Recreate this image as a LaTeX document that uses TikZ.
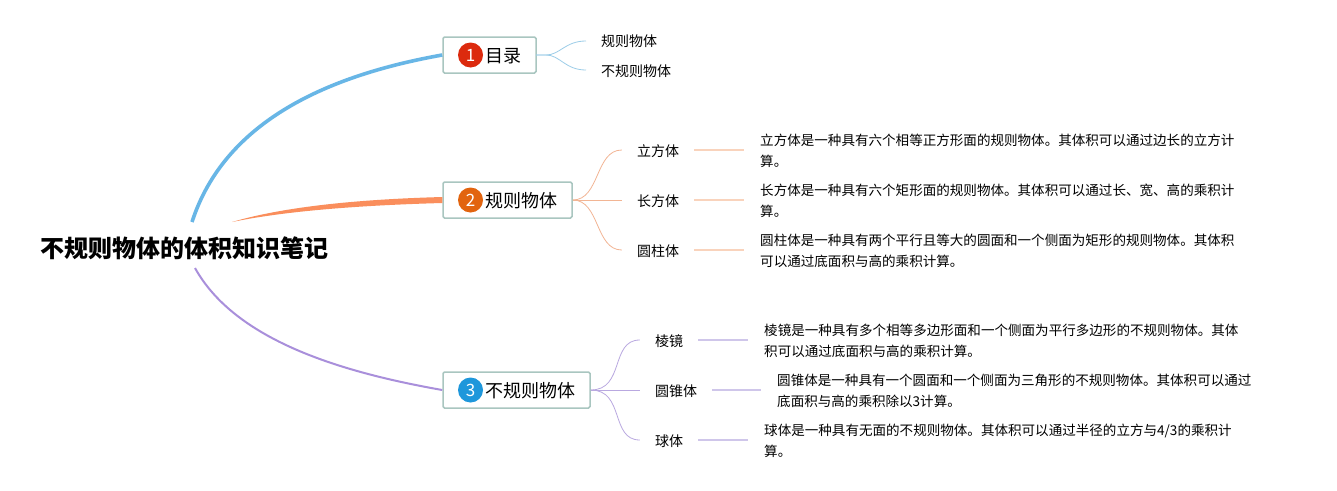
\documentclass[tikz,border=0pt]{standalone}
\usepackage{fontspec}
\setmainfont{Noto Sans CJK SC}
\newfontfamily\lightcjk{Noto Sans CJK SC Light}
\usetikzlibrary{calc}
\definecolor{cblue}{HTML}{68B6E6}
\definecolor{corange}{HTML}{FA8E5C}
\definecolor{cpurple}{HTML}{A98FDB}
\definecolor{lblue}{HTML}{9CCDE8}
\definecolor{lorange}{HTML}{F2B594}
\definecolor{lorangeb}{HTML}{F9D3BC}
\definecolor{lpurple}{HTML}{B9A8E0}
\definecolor{lpurpleb}{HTML}{CFC6EA}
\definecolor{boxline}{HTML}{A9C6C0}
\definecolor{badgered}{HTML}{DC2A0E}
\definecolor{badgeorange}{HTML}{E2640F}
\definecolor{badgeblue}{HTML}{1E97DB}
\tikzset{
  x=1pt,y=-1pt,
  rootnode/.style={inner sep=0pt,font=\fontsize{24}{28}\selectfont\bfseries},
  topicbox/.style={draw=boxline,line width=1.5pt,rounded corners=1.5pt,fill=white,inner sep=0pt,minimum height=36pt},
  badge/.style={circle,inner sep=0pt,minimum size=25pt,text=white,font=\fontsize{17}{20}\selectfont},
  topictext/.style={inner sep=0pt,font=\fontsize{18}{22}\selectfont,anchor=west},
  leaf/.style={inner sep=0pt,font=\fontsize{14}{18}\selectfont},
  desc/.style={inner sep=0pt,anchor=west,align=left,font=\fontsize{13.55}{21}\selectfont},
  thin link/.style={line width=0.8pt},
  bar link/.style={line width=1.4pt},
}
\begin{document}
\begin{tikzpicture}
\useasboundingbox (0,0) rectangle (1337,490);
\fill[white] (0,0) rectangle (1337,490);

\node[rootnode] (root) at (184.5,248) {不规则物体的体积知识笔记};
\coordinate (r1) at (192,222);
\coordinate (r2) at (232,222);
\coordinate (r3) at (195,268);

% topic boxes
\node[topicbox,minimum width=93pt] (t1) at (489.5,55) {};
\node[topicbox,minimum width=129pt] (t2) at (507.5,200) {};
\node[topicbox,minimum width=147pt] (t3) at (516.5,390) {};

\node[badge,fill=badgered] (b1) at (470.5,55) {1};
\node[badge,fill=badgeorange] (b2) at (470.5,200) {2};
\node[badge,fill=badgeblue] (b3) at (470.5,390) {3};
\node[topictext] (tt1) at (485,56) {目录};
\node[topictext] (tt2) at (485,200.5) {规则物体};
\node[topictext] (tt3) at (485,391) {不规则物体};

% main branches
\draw[cblue,line width=3.6pt] (r1) .. controls (225,120) and (330,75) .. (t1.west);
\fill[corange] (r2) .. controls (290,205) and (370,199) .. ($(t2.west)+(0,-3)$) -- ($(t2.west)+(0,3)$) .. controls (370,205) and (290,210) .. (r2) -- cycle;
\draw[cpurple,line width=2pt] (r3) .. controls (235,340) and (340,372) .. (t3.west);

% level 2 topic 1
\node[leaf,anchor=west] (a1) at (601,41) {规则物体};
\node[leaf,anchor=west] (a2) at (601,71) {不规则物体};
\coordinate (o1) at (536,55);
\draw[lblue,thin link] (t1.east) -- (o1) -- ++(10,0) .. controls (560,55) and (565,41) .. ($(a1.west)+(-15,0)$);
\draw[lblue,thin link] (o1) -- ++(10,0) .. controls (560,55) and (565,70) .. ($(a2.west)+(-15,-1)$);

% level 2 topic 2
\node[leaf] (c1) at (658,151) {立方体};
\node[leaf] (c2) at (658,201) {长方体};
\node[leaf] (c3) at (658,251) {圆柱体};
\draw[lorange,thin link] (t2.east) .. controls (600,200) and (595,150) .. ($(c1.west)+(-15,-1)$);
\draw[lorange,thin link] (t2.east) -- ($(c2.west)+(-15,-1)$);
\draw[lorange,thin link] (t2.east) .. controls (600,200) and (595,250) .. ($(c3.west)+(-15,-1)$);

\node[desc] (d1) at (760,151) {立方体是一种具有六个相等正方形面的规则物体。其体积可以通过边长的立方计\\算。};
\node[desc] (d2) at (760,201) {长方体是一种具有六个矩形面的规则物体。其体积可以通过长、宽、高的乘积计\\算。};
\node[desc] (d3) at (760,251) {圆柱体是一种具有两个平行且等大的圆面和一个侧面为矩形的规则物体。其体积\\可以通过底面积与高的乘积计算。};
\draw[lorangeb,bar link] ($(c1.east)+(15,-1)$) -- ($(d1.west)+(-16,-1)$);
\draw[lorangeb,bar link] ($(c2.east)+(15,-1)$) -- ($(d2.west)+(-16,-1)$);
\draw[lorangeb,bar link] ($(c3.east)+(15,-1)$) -- ($(d3.west)+(-16,-1)$);

% level 2 topic 3
\node[leaf] (e1) at (669,341) {棱镜};
\node[leaf] (e2) at (676,391) {圆锥体};
\node[leaf] (e3) at (669,441) {球体};
\draw[lpurple,thin link] (t3.east) .. controls (625,390) and (610,340) .. ($(e1.west)+(-15,-1)$);
\draw[lpurple,thin link] (t3.east) -- ($(e2.west)+(-15,-1)$);
\draw[lpurple,thin link] (t3.east) .. controls (625,390) and (610,440) .. ($(e3.west)+(-15,-1)$);

\node[desc] (f1) at (764,341) {棱镜是一种具有多个相等多边形面和一个侧面为平行多边形的不规则物体。其体\\积可以通过底面积与高的乘积计算。};
\node[desc] (f2) at (777,391) {圆锥体是一种具有一个圆面和一个侧面为三角形的不规则物体。其体积可以通过\\底面积与高的乘积除以3计算。};
\node[desc] (f3) at (764,441) {球体是一种具有无面的不规则物体。其体积可以通过半径的立方与4/3的乘积计\\算。};
\draw[lpurpleb,bar link] ($(e1.east)+(15,-1)$) -- ($(f1.west)+(-16,-1)$);
\draw[lpurpleb,bar link] ($(e2.east)+(15,-1)$) -- ($(f2.west)+(-16,-1)$);
\draw[lpurpleb,bar link] ($(e3.east)+(15,-1)$) -- ($(f3.west)+(-16,-1)$);
\end{tikzpicture}
\end{document}
